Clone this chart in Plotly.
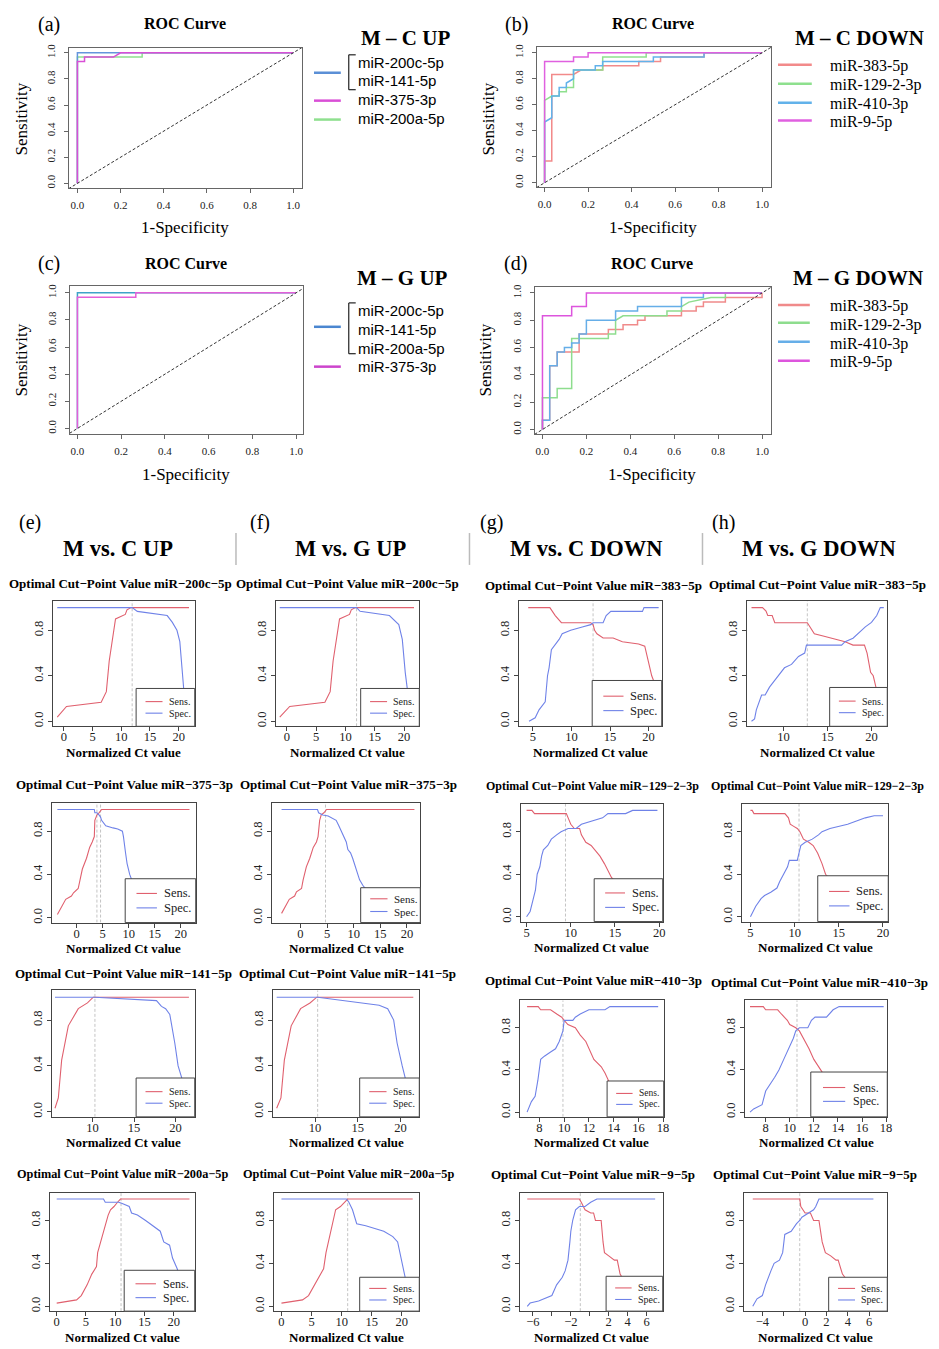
import plotly.graph_objects as go

W, H = 939, 1349
SERIF = "Liberation Serif, Times New Roman, serif"
SANS = "Liberation Sans, Arial, sans-serif"

# ---------------------------------------------------------------- ROC data
ROC_TICKS = [0.0, 0.2, 0.4, 0.6, 0.8, 1.0]

# (a) M - C UP
a_200c_141_fpr = [0, 0, 1]
a_200c_141_tpr = [0, 1, 1]
a_375_fpr = [0, 0, 0.033, 0.033, 0.167, 0.2, 1]
a_375_tpr = [0, 0.933, 0.933, 0.967, 0.967, 1, 1]
a_200a_fpr = [0, 0, 0.3, 0.3, 1]
a_200a_tpr = [0, 0.967, 0.967, 1, 1]

# (b) M - C DOWN
b_383_fpr = [0, 0, 0.033, 0.033, 0.133, 0.167, 0.267, 0.267, 0.433, 0.433, 0.533, 0.533, 0.733, 0.733, 1]
b_383_tpr = [0, 0.167, 0.167, 0.833, 0.833, 0.867, 0.867, 0.9, 0.9, 0.933, 0.933, 0.967, 0.967, 1, 1]
b_129_fpr = [0, 0, 0.033, 0.067, 0.067, 0.1, 0.1, 0.133, 0.133, 0.267, 0.267, 0.467, 0.467, 1]
b_129_tpr = [0, 0.633, 0.667, 0.667, 0.7, 0.7, 0.733, 0.733, 0.867, 0.867, 0.967, 0.967, 1, 1]
b_410_fpr = [0, 0, 0.033, 0.033, 0.067, 0.067, 0.1, 0.1, 0.133, 0.133, 0.233, 0.233, 0.267, 0.267, 0.5, 0.5, 0.733, 0.733, 1]
b_410_tpr = [0, 0.467, 0.5, 0.667, 0.667, 0.733, 0.733, 0.767, 0.8, 0.867, 0.867, 0.9, 0.9, 0.933, 0.933, 0.967, 0.967, 1, 1]
b_9_fpr = [0, 0, 0.133, 0.133, 0.2, 0.2, 1]
b_9_tpr = [0, 0.933, 0.933, 0.967, 0.967, 1, 1]

# (c) M - G UP
c_200c_141_200a_fpr = [0, 0, 1]
c_200c_141_200a_tpr = [0, 1, 1]
c_375_fpr = [0, 0, 0.267, 0.267, 1]
c_375_tpr = [0, 0.967, 0.967, 1, 1]

# (d) M - G DOWN
d_383_fpr = [0, 0, 0.033, 0.033, 0.067, 0.067, 0.167, 0.167, 0.3, 0.3, 0.367, 0.367, 0.433, 0.433, 0.467, 0.467,
             0.633, 0.633, 0.7, 0.7, 0.733, 0.733, 0.833, 0.833, 1, 1]
d_383_tpr = [0, 0.067, 0.067, 0.467, 0.467, 0.567, 0.567, 0.7, 0.7, 0.733, 0.733, 0.767, 0.767, 0.8, 0.8, 0.833,
             0.833, 0.867, 0.867, 0.9, 0.9, 0.933, 0.933, 0.967, 0.967, 1]
d_129_fpr = [0, 0, 0.067, 0.067, 0.133, 0.133, 0.3, 0.3, 0.333, 0.333, 0.367, 0.567, 0.567, 0.633, 0.633, 0.667,
             0.767, 0.833, 0.833, 1]
d_129_tpr = [0, 0.233, 0.233, 0.3, 0.3, 0.667, 0.667, 0.7, 0.7, 0.8, 0.833, 0.833, 0.867, 0.867, 0.9, 0.933,
             0.967, 0.967, 1, 1]
d_410_fpr = [0, 0, 0.033, 0.033, 0.067, 0.067, 0.1, 0.1, 0.133, 0.133, 0.167, 0.167, 0.2, 0.2, 0.333, 0.333,
             0.433, 0.433, 0.633, 0.633, 0.733, 0.733, 1]
d_410_tpr = [0, 0.067, 0.067, 0.467, 0.467, 0.567, 0.567, 0.6, 0.6, 0.633, 0.633, 0.7, 0.7, 0.8, 0.8, 0.867,
             0.867, 0.9, 0.9, 0.967, 0.967, 1, 1]
d_9_fpr = [0, 0, 0.133, 0.133, 0.2, 0.2, 1]
d_9_tpr = [0, 0.833, 0.833, 0.9, 0.9, 1, 1]

# ------------------------------------------------- cut-point data (Ct, value)
# row 1: miR-200c-5p / miR-383-5p
e1_sens_ct = [-1.15, 0.46, 6.5, 7.4, 7.9, 9.0, 10.7, 11.0, 11.7, 21.8]
e1_sens = [0.035, 0.13, 0.167, 0.26, 0.53, 0.9, 0.94, 0.98, 1.0, 1.0]
e1_spec_ct = [-1.15, 11.9, 12.8, 18.0, 18.9, 19.7, 20.2, 20.6, 20.9, 21.3, 21.8]
e1_spec = [1.0, 1.0, 0.967, 0.93, 0.87, 0.8, 0.7, 0.4, 0.27, 0.1, 0.0]
e1_cut = [11.9]

f1_sens_ct = [-1.2, 0.5, 6.5, 7.4, 7.9, 9.0, 10.7, 11.0, 11.7, 21.7]
f1_sens = [0.035, 0.13, 0.167, 0.26, 0.53, 0.9, 0.94, 0.98, 1.0, 1.0]
f1_spec_ct = [-1.2, 11.9, 12.5, 17.5, 19.1, 19.7, 20.2, 20.6, 21.0, 21.7]
f1_spec = [1.0, 1.0, 0.967, 0.93, 0.85, 0.72, 0.43, 0.27, 0.1, 0.0]
f1_cut = [11.9]

g1_sens_ct = [4.4, 7.2, 7.9, 8.7, 12.5, 12.8, 13.0, 13.3, 14.1, 15.4, 16.6, 18.7, 19.5, 19.9, 20.4, 20.8, 21.3]
g1_sens = [1.0, 1.0, 0.93, 0.867, 0.867, 0.85, 0.8, 0.77, 0.733, 0.733, 0.7, 0.68, 0.66, 0.55, 0.4, 0.33, 0.2]
g1_spec_ct = [4.5, 5.3, 5.8, 6.4, 6.6, 6.9, 7.1, 7.4, 7.9, 8.4, 8.8, 9.9, 11.4, 12.5, 12.8, 14.1, 14.5, 15.1,
              19.2, 19.4, 21.3]
g1_spec = [0.0, 0.03, 0.1, 0.15, 0.17, 0.4, 0.47, 0.63, 0.67, 0.72, 0.77, 0.8, 0.83, 0.85, 0.867, 0.867, 0.93,
           0.967, 0.967, 1.0, 1.0]
g1_cut = [12.8]

h1_sens_ct = [6.35, 7.6, 8.0, 8.2, 8.7, 9.0, 12.7, 13.0, 13.5, 14.5, 16.0, 17.0, 17.9, 19.2, 19.5, 19.9, 20.2,
              20.6, 21.4]
h1_sens = [1.0, 1.0, 0.97, 0.93, 0.93, 0.867, 0.867, 0.83, 0.77, 0.75, 0.72, 0.7, 0.67, 0.67, 0.6, 0.43, 0.4,
           0.27, 0.1]
h1_spec_ct = [6.35, 6.7, 6.9, 7.2, 7.5, 7.9, 8.4, 9.1, 9.7, 10.1, 10.9, 11.7, 12.4, 12.6, 16.6, 17.0, 17.9, 18.9,
              19.3, 20.0, 20.6, 21.0, 21.4]
h1_spec = [0.0, 0.02, 0.1, 0.17, 0.23, 0.23, 0.3, 0.37, 0.43, 0.47, 0.5, 0.57, 0.6, 0.67, 0.67, 0.7, 0.73, 0.8,
           0.83, 0.87, 0.93, 1.0, 1.0]
h1_cut = [12.7]

# row 2: miR-375-3p / miR-129-2-3p
e2_sens_ct = [-3.7, -2.9, -2.1, -1.0, -0.6, 0.3, 0.6, 1.1, 1.9, 2.5, 3.0, 3.4, 3.5, 3.9, 4.3, 4.8, 21.7]
e2_sens = [0.03, 0.1, 0.17, 0.2, 0.23, 0.27, 0.35, 0.45, 0.55, 0.65, 0.7, 0.75, 0.9, 0.95, 0.97, 1.0, 1.0]
e2_spec_ct = [-3.7, 3.4, 3.5, 3.9, 4.3, 4.6, 4.8, 5.2, 5.6, 7.0, 7.9, 8.8, 9.0, 9.4, 9.7, 10.2, 10.6, 12.0, 15.0,
              20.0, 21.7]
e2_spec = [1.0, 1.0, 0.97, 0.97, 0.95, 0.93, 0.9, 0.87, 0.85, 0.83, 0.82, 0.8, 0.75, 0.6, 0.5, 0.4, 0.35, 0.3,
           0.2, 0.05, 0.0]
e2_cut = [3.9, 4.6]

f2_sens_ct = [-3.55, -2.9, -2.1, -1.1, -0.75, 0.2, 0.5, 1.1, 1.75, 2.4, 3.0, 3.3, 3.6, 3.9, 4.4, 4.9, 21.4]
f2_sens = [0.04, 0.1, 0.17, 0.2, 0.24, 0.27, 0.35, 0.47, 0.55, 0.65, 0.7, 0.75, 0.9, 0.95, 0.97, 1.0, 1.0]
f2_spec_ct = [-3.55, 3.2, 3.4, 4.2, 5.2, 6.1, 6.7, 7.2, 7.7, 8.1, 8.6, 8.9, 9.4, 9.8, 10.3, 10.8, 11.1, 11.7,
              12.0, 15.0, 21.4]
f2_spec = [1.0, 1.0, 0.97, 0.95, 0.94, 0.92, 0.9, 0.85, 0.8, 0.75, 0.7, 0.63, 0.6, 0.55, 0.47, 0.4, 0.35, 0.3,
           0.28, 0.15, 0.0]
f2_cut = [4.7]

g2_sens_ct = [5.0, 5.6, 5.9, 9.5, 9.7, 10.0, 10.4, 11.0, 11.2, 11.7, 12.3, 12.7, 13.3, 13.8, 14.2, 14.6, 15.0,
              17.0, 19.8]
g2_sens = [1.0, 1.0, 0.97, 0.97, 0.93, 0.87, 0.83, 0.83, 0.77, 0.7, 0.67, 0.63, 0.57, 0.5, 0.43, 0.37, 0.33,
           0.15, 0.0]
g2_spec_ct = [5.0, 5.4, 5.7, 6.0, 6.2, 6.5, 6.7, 6.9, 7.4, 7.8, 8.4, 8.9, 9.7, 10.6, 11.2, 12.5, 13.6, 14.2,
              16.2, 17.0, 19.8]
g2_spec = [0.0, 0.05, 0.15, 0.25, 0.4, 0.47, 0.57, 0.63, 0.67, 0.73, 0.77, 0.8, 0.83, 0.83, 0.87, 0.9, 0.93,
           0.97, 0.97, 1.0, 1.0]
g2_cut = [9.4]

h2_sens_ct = [5.0, 5.2, 5.4, 8.9, 9.3, 9.5, 9.9, 10.3, 10.6, 11.0, 11.6, 12.1, 12.6, 13.1, 13.5, 13.8, 15.0, 20.0]
h2_sens = [1.0, 1.0, 0.97, 0.97, 0.93, 0.87, 0.85, 0.83, 0.8, 0.73, 0.7, 0.67, 0.6, 0.5, 0.4, 0.37, 0.2, 0.0]
h2_spec_ct = [5.0, 5.3, 5.6, 6.2, 6.6, 7.3, 8.0, 8.3, 8.8, 9.2, 9.4, 10.3, 10.5, 10.7, 11.2, 12.0, 12.7, 13.1,
              14.0, 15.0, 16.0, 17.0, 18.0, 19.0, 20.0]
h2_spec = [0.0, 0.05, 0.1, 0.17, 0.2, 0.23, 0.27, 0.33, 0.4, 0.47, 0.53, 0.53, 0.6, 0.67, 0.7, 0.73, 0.77, 0.8,
           0.83, 0.85, 0.87, 0.9, 0.93, 0.95, 0.95]
h2_cut = [10.5]

# row 3: miR-141-5p / miR-410-3p
e3_sens_ct = [5.5, 5.9, 6.3, 7.1, 8.3, 9.4, 10.1, 21.6]
e3_sens = [0.03, 0.12, 0.45, 0.75, 0.9, 0.95, 1.0, 1.0]
e3_spec_ct = [5.5, 10.3, 17.7, 18.3, 18.8, 19.3, 19.9, 20.3, 20.8, 21.6]
e3_spec = [1.0, 1.0, 0.97, 0.92, 0.9, 0.85, 0.6, 0.4, 0.28, 0.05]
e3_cut = [10.3]

f3_sens_ct = [5.5, 6.0, 6.4, 7.2, 8.3, 9.4, 10.2, 21.5]
f3_sens = [0.03, 0.12, 0.45, 0.75, 0.9, 0.95, 1.0, 1.0]
f3_spec_ct = [5.5, 10.3, 17.5, 18.5, 19.2, 19.6, 20.2, 20.6, 21.5]
f3_spec = [1.0, 1.0, 0.93, 0.9, 0.8, 0.6, 0.4, 0.28, 0.05]
f3_cut = [10.3]

g3_sens_ct = [7.0, 7.9, 8.1, 8.9, 9.4, 9.8, 10.0, 10.3, 10.9, 11.3, 11.75, 12.0, 12.4, 13.0, 13.3, 13.7, 15.0, 17.6]
g3_sens = [1.0, 1.0, 0.97, 0.97, 0.93, 0.9, 0.87, 0.83, 0.8, 0.73, 0.67, 0.6, 0.5, 0.43, 0.37, 0.27, 0.1, 0.0]
g3_spec_ct = [7.0, 7.35, 7.65, 7.87, 8.1, 8.4, 8.9, 9.3, 9.6, 9.8, 9.9, 10.0, 10.7, 10.9, 11.3, 12.0, 13.3, 13.7,
              17.6]
g3_spec = [0.0, 0.1, 0.15, 0.3, 0.5, 0.53, 0.57, 0.6, 0.67, 0.73, 0.77, 0.87, 0.87, 0.9, 0.93, 0.97, 0.97, 1.0, 1.0]
g3_cut = [9.9]

h3_sens_ct = [6.7, 7.8, 8.0, 9.0, 9.3, 9.8, 10.0, 10.5, 10.8, 11.0, 11.3, 11.6, 12.0, 12.4, 12.8, 14.0, 17.8]
h3_sens = [1.0, 1.0, 0.97, 0.97, 0.93, 0.87, 0.83, 0.8, 0.77, 0.73, 0.67, 0.6, 0.5, 0.43, 0.37, 0.15, 0.0]
h3_spec_ct = [6.7, 7.0, 7.7, 8.0, 8.75, 9.1, 9.5, 9.9, 10.3, 10.5, 10.8, 11.5, 11.8, 12.1, 13.05, 13.6, 14.1, 17.8]
h3_spec = [0.0, 0.03, 0.07, 0.2, 0.33, 0.4, 0.5, 0.6, 0.7, 0.77, 0.8, 0.8, 0.87, 0.9, 0.9, 0.97, 1.0, 1.0]
h3_cut = [10.6]

# row 4: miR-200a-5p / miR-9-5p
e4_sens_ct = [0, 3.4, 4.2, 5.2, 6.0, 6.8, 7.0, 7.5, 8.3, 8.8, 9.2, 9.8, 10.4, 10.9, 22.7]
e4_sens = [0.03, 0.06, 0.1, 0.2, 0.3, 0.37, 0.5, 0.6, 0.75, 0.85, 0.9, 0.93, 0.97, 1.0, 1.0]
e4_spec_ct = [0, 8.0, 8.3, 10.6, 11.1, 12.4, 12.8, 13.8, 15.2, 16.5, 17.7, 18.3, 19.3, 19.8, 20.6, 22.0, 22.7]
e4_spec = [1.0, 1.0, 0.97, 0.97, 0.96, 0.93, 0.87, 0.85, 0.8, 0.75, 0.7, 0.6, 0.57, 0.45, 0.35, 0.1, 0.0]
e4_cut = [11.0]

f4_sens_ct = [0, 3.5, 4.5, 5.5, 6.3, 7.0, 7.4, 7.8, 8.5, 9.0, 9.8, 10.5, 11.0, 21.8]
f4_sens = [0.03, 0.06, 0.1, 0.2, 0.28, 0.35, 0.5, 0.6, 0.8, 0.9, 0.93, 0.97, 1.0, 1.0]
f4_spec_ct = [0, 10.8, 11.2, 11.8, 12.5, 14.0, 17.0, 18.5, 19.3, 20.0, 20.4, 21.0, 21.8]
f4_spec = [1.0, 1.0, 0.97, 0.9, 0.77, 0.75, 0.7, 0.65, 0.6, 0.4, 0.3, 0.15, 0.0]
f4_cut = [11.0]

g4_sens_ct = [-6.6, -1.1, -0.9, -0.5, 0.1, 0.4, 0.6, 1.2, 1.4, 1.55, 2.0, 2.6, 2.9, 3.2, 4.5, 6.9]
g4_sens = [1.0, 1.0, 0.97, 0.9, 0.87, 0.87, 0.8, 0.8, 0.6, 0.5, 0.47, 0.43, 0.43, 0.3, 0.1, 0.0]
g4_spec_ct = [-6.6, -6.3, -5.4, -4.5, -4.0, -3.5, -2.9, -2.6, -2.3, -2.1, -2.0, -1.8, -1.5, -1.1, -0.5, 0.1,
              0.75, 6.9]
g4_spec = [0.0, 0.03, 0.05, 0.08, 0.1, 0.2, 0.27, 0.33, 0.43, 0.6, 0.7, 0.8, 0.9, 0.93, 0.93, 0.97, 1.0, 1.0]
g4_cut = [-1.0]

h4_sens_ct = [-4.9, -0.5, -0.4, 0.0, 0.5, 0.8, 1.3, 1.6, 1.9, 2.4, 2.9, 3.1, 3.5, 5.0, 6.4]
h4_sens = [1.0, 1.0, 0.93, 0.87, 0.87, 0.8, 0.8, 0.6, 0.5, 0.47, 0.43, 0.43, 0.3, 0.1, 0.0]
h4_spec_ct = [-4.9, -4.5, -4.0, -3.7, -3.2, -2.9, -2.4, -2.1, -1.9, -1.3, -0.8, -0.5, -0.3, 0.3, 0.8, 1.0, 1.3,
              6.4]
h4_spec = [0.0, 0.07, 0.1, 0.2, 0.33, 0.4, 0.43, 0.5, 0.67, 0.7, 0.77, 0.8, 0.83, 0.87, 0.9, 0.93, 1.0, 1.0]
h4_cut = [-0.5]

SENS_COLOR = "#E0606E"
SPEC_COLOR = "#6F82E8"

# ------------------------------------------------------------------ helpers
fig = go.Figure()
layout = dict(width=W, height=H, margin=dict(l=0, r=0, t=0, b=0), paper_bgcolor="white",
              plot_bgcolor="white", showlegend=False)
shapes = []
annotations = []
n_axes = [0]


def fx(p):
    return p / W


def fy(p):
    return 1 - p / H


def label(px, py, s, size, family=SERIF, bold=False, anchor="center", angle=0, color="black"):
    annotations.append(dict(x=fx(px), y=fy(py), xref="paper", yref="paper",
                            text=f"<b>{s}</b>" if bold else s, showarrow=False,
                            xanchor=anchor, yanchor="middle", textangle=angle,
                            font=dict(family=family, size=size, color=color)))


def seg(x0, y0, x1, y1, color, width):
    shapes.append(dict(type="line", xref="paper", yref="paper", x0=fx(x0), x1=fx(x1), y0=fy(y0), y1=fy(y1),
                       line=dict(color=color, width=width)))


def make_axes(box, xr, yr, xt, xtt, yt, ytt, fs, lc="#555", xstand=0, ystand=0):
    n_axes[0] += 1
    s = "" if n_axes[0] == 1 else str(n_axes[0])
    l, t, r, b = box
    base = dict(showline=True, mirror=True, linecolor=lc, linewidth=1, ticks="outside", ticklen=4,
                tickwidth=1, tickcolor=lc, showgrid=False, zeroline=False, fixedrange=True,
                tickfont=dict(family=SERIF, size=fs, color="#222"), tickmode="array")
    layout["xaxis" + s] = dict(domain=[fx(l), fx(r)], range=xr, anchor="y" + s, tickvals=xt, ticktext=xtt,
                               ticklabelstandoff=xstand, **base)
    layout["yaxis" + s] = dict(domain=[fy(b), fy(t)], range=yr, anchor="x" + s, tickvals=yt, ticktext=ytt,
                               tickangle=-90, ticklabelstandoff=ystand, **base)
    return "x" + s, "y" + s


def line_trace(x, y, xa, ya, color, width=1.0, dash=None):
    fig.add_trace(go.Scatter(x=x, y=y, mode="lines", xaxis=xa, yaxis=ya, hoverinfo="skip",
                             line=dict(color=color, width=width, dash=dash)))


def roc_panel(box, xr, yr, curves, letter, lpos, tpos, ylpos, xlpos):
    xa, ya = make_axes(box, xr, yr, ROC_TICKS, [f"{v:.1f}" for v in ROC_TICKS],
                       ROC_TICKS, [f"{v:.1f}" for v in ROC_TICKS], 11, lc="#666", xstand=2, ystand=4)
    for fpr, tpr, col in curves:
        line_trace(fpr, tpr, xa, ya, col, 1.5)
    # chance diagonal
    line_trace([xr[0], xr[1]], [xr[0], xr[1]], xa, ya, "#333", 1, "3px,2px")
    label(lpos[0], lpos[1], letter, 20)
    label(tpos[0], tpos[1], "ROC Curve", 16, bold=True)
    label(ylpos[0], ylpos[1], "Sensitivity", 17, angle=-90)
    label(xlpos[0], xlpos[1], "1-Specificity", 17)


def roc_legend(title, tpos, entries, family, fs):
    label(tpos[0], tpos[1], title, 21, bold=True)
    for kind, *rest in entries:
        if kind == "line":
            x0, x1, y, col = rest
            seg(x0, y, x1, y, col, 2.5)
        elif kind == "text":
            x, y, s = rest
            label(x, y, s, fs, family=family, anchor="left")
        elif kind == "bracket":
            x, y0, y1 = rest
            seg(x, y0, x, y1, "#222", 1.2)
            seg(x, y0, x + 7, y0, "#222", 1.2)
            seg(x, y1, x + 7, y1, "#222", 1.2)


YR_SMALL = [-0.045, 1.06]


def cut_panel(box, xr, xt, xtt, sens_ct, sens, spec_ct, spec, cuts, title, tpos, leg_w, leg_h, leg_fs,
              title_fs=13):
    xa, ya = make_axes(box, xr, YR_SMALL, xt, xtt, [0, 0.4, 0.8], ["0.0", "0.4", "0.8"], 12.5, lc="#444",
                       xstand=-5, ystand=0)
    for c in cuts:
        line_trace([c, c], YR_SMALL, xa, ya, "#C4C4C4", 1, "3px,2px")
    line_trace(sens_ct, sens, xa, ya, SENS_COLOR, 1.1)
    line_trace(spec_ct, spec, xa, ya, SPEC_COLOR, 1.1)
    l, t, r, b = box
    label(tpos[0], tpos[1], title, title_fs, bold=True)
    label((l + r) / 2, b + 26, "Normalized Ct value", 13, bold=True)
    # legend box in the lower-right corner
    lx0, ly0 = r - leg_w, b - leg_h
    shapes.append(dict(type="rect", xref="paper", yref="paper", x0=fx(lx0), x1=fx(r), y0=fy(b), y1=fy(ly0),
                       fillcolor="white", line=dict(color="#444", width=1), layer="above"))
    yc = (ly0 + b) / 2
    for dy, col, s in [(-0.58 * leg_fs, SENS_COLOR, "Sens."), (0.58 * leg_fs, SPEC_COLOR, "Spec.")]:
        seg(lx0 + 0.16 * leg_w, yc + dy, lx0 + 0.45 * leg_w, yc + dy, col, 1.1)
        label(lx0 + 0.52 * leg_w, yc + dy, s, leg_fs, anchor="left", color="#222")


# ------------------------------------------------------------- ROC panels
roc_panel((69, 44, 304, 185), [-0.041, 1.041], [-0.038, 1.038],
          [(a_200a_fpr, a_200a_tpr, "#8FE08F"), (a_200c_141_fpr, a_200c_141_tpr, "#6495DC"),
           (a_375_fpr, a_375_tpr, "#D94FD6")],
          "(a)", (49, 21), (186, 20), (22, 115), (186, 224))
roc_legend("M – C UP", (408, 34),
           [("line", 316, 343, 69, "#5B8FD6"), ("bracket", 351, 51, 86),
            ("text", 358, 59, "miR-200c-5p"), ("text", 358, 77, "miR-141-5p"),
            ("line", 316, 343, 97, "#D94FD6"), ("text", 358, 96, "miR-375-3p"),
            ("line", 316, 343, 116, "#8FE08F"), ("text", 358, 115, "miR-200a-5p")], SANS, 15)

roc_panel((540, 43, 776, 184), [-0.037, 1.041], [-0.035, 1.045],
          [(b_383_fpr, b_383_tpr, "#F28A8A"), (b_129_fpr, b_129_tpr, "#8EE08E"),
           (b_410_fpr, b_410_tpr, "#62B2EA"), (b_9_fpr, b_9_tpr, "#E060E0")],
          "(b)", (520, 21), (657, 20), (492, 115), (657, 224))
roc_legend("M – C DOWN", (865, 34),
           [("line", 783, 817, 61, "#F28A8A"), ("text", 833, 62, "miR-383-5p"),
            ("line", 783, 817, 80, "#8EE08E"), ("text", 833, 81, "miR-129-2-3p"),
            ("line", 783, 817, 99, "#62B2EA"), ("text", 833, 100, "miR-410-3p"),
            ("line", 783, 817, 117, "#E060E0"), ("text", 833, 118, "miR-9-5p")], SERIF, 16)

roc_panel((70, 283, 305, 432), [-0.036, 1.032], [-0.044, 1.051],
          [(c_200c_141_200a_fpr, c_200c_141_200a_tpr, "#3FA3C8"), (c_375_fpr, c_375_tpr, "#E45FD8")],
          "(c)", (49, 260), (187, 260), (22, 357), (187, 472))
roc_legend("M – G UP", (405, 275),
           [("line", 316, 343, 324, "#4A86D0"), ("bracket", 351, 300, 351),
            ("text", 358, 308, "miR-200c-5p"), ("text", 358, 327, "miR-141-5p"),
            ("text", 358, 346, "miR-200a-5p"),
            ("line", 316, 343, 364, "#CC44CC"), ("text", 358, 364, "miR-375-3p")], SANS, 15)

roc_panel((538, 284, 776, 432), [-0.036, 1.041], [-0.036, 1.044],
          [(d_383_fpr, d_383_tpr, "#F08A8A"), (d_129_fpr, d_129_tpr, "#8EDD8E"),
           (d_410_fpr, d_410_tpr, "#66AEE8"), (d_9_fpr, d_9_tpr, "#DD55DD")],
          "(d)", (519, 260), (656, 260), (489, 357), (656, 472))
roc_legend("M – G DOWN", (864, 275),
           [("line", 783, 815, 302, "#F08A8A"), ("text", 833, 303, "miR-383-5p"),
            ("line", 783, 815, 320, "#8EDD8E"), ("text", 833, 322, "miR-129-2-3p"),
            ("line", 783, 815, 339, "#66AEE8"), ("text", 833, 341, "miR-410-3p"),
            ("line", 783, 815, 358, "#DD55DD"), ("text", 833, 359, "miR-9-5p")], SERIF, 16)

# ------------------------------------------------------ cut-point headers
for letter, x in [("(e)", 30), ("(f)", 262), ("(g)", 495), ("(h)", 728)]:
    label(x, 520, letter, 20)
for head, x in [("M vs. C UP", 119), ("M vs. G UP", 353), ("M vs. C DOWN", 590), ("M vs. G DOWN", 824)]:
    label(x, 547, head, 22.5, bold=True)
for x in [237.5, 472.5, 707]:
    seg(x, 531, x, 563, "#BBBBBB", 1.5)

T5 = [0, 5, 10, 15, 20]
T5s = ["0", "5", "10", "15", "20"]
T10 = [10, 15, 20]
T10s = ["10", "15", "20"]
T5_20 = [5, 10, 15, 20]
T5_20s = ["5", "10", "15", "20"]
T8 = [8, 10, 12, 14, 16, 18]
T8s = ["8", "10", "12", "14", "16", "18"]

ttl = "Optimal Cut−Point Value "

# row 1
cut_panel((53, 599, 196, 725), [-1.95, 22.8], T5, T5s, e1_sens_ct, e1_sens, e1_spec_ct, e1_spec, e1_cut,
          ttl + "miR−200c−5p", (121, 582), 59, 38, 10)
cut_panel((278, 599, 422, 725), [-1.8, 22.6], T5, T5s, f1_sens_ct, f1_sens, f1_spec_ct, f1_spec, f1_cut,
          ttl + "miR−200c−5p", (350, 582), 59, 38, 10)
cut_panel((522, 599, 666, 725), [3.16, 21.7], T5_20, T5_20s, g1_sens_ct, g1_sens, g1_spec_ct, g1_spec, g1_cut,
          ttl + "miR−383−5p", (597, 584), 70, 46, 12.5)
cut_panel((752, 599, 893, 725), [5.86, 21.8], T10, T10s, h1_sens_ct, h1_sens, h1_spec_ct, h1_spec, h1_cut,
          ttl + "miR−383−5p", (823, 583), 58, 39, 10)

# row 2
cut_panel((52, 802, 197, 922), [-4.8, 22.9], T5, T5s, e2_sens_ct, e2_sens, e2_spec_ct, e2_spec, e2_cut,
          ttl + "miR−375−3p", (125, 783), 71, 44, 12.5)
cut_panel((274, 802, 423, 922), [-5.3, 22.5], T5, T5s, f2_sens_ct, f2_sens, f2_spec_ct, f2_spec, f2_cut,
          ttl + "miR−375−3p", (351, 783), 60, 35, 11)
cut_panel((524, 803, 667, 921), [4.33, 20.4], T5_20, T5_20s, g2_sens_ct, g2_sens, g2_spec_ct, g2_spec, g2_cut,
          ttl + "miR−129−2−3p", (596, 785), 69, 43, 12.5, title_fs=12)
cut_panel((747, 803, 894, 921), [4.07, 20.6], T5_20, T5_20s, h2_sens_ct, h2_sens, h2_spec_ct, h2_spec, h2_cut,
          ttl + "miR−129−2−3p", (823, 785), 71, 46, 12.5, title_fs=12)

# row 3
cut_panel((52, 990, 196, 1117), [5.1, 22.3], T10, T10s, e3_sens_ct, e3_sens, e3_spec_ct, e3_spec, e3_cut,
          ttl + "miR−141−5p", (124, 973), 59, 39, 10)
cut_panel((275, 990, 422, 1117), [5.1, 22.2], T10, T10s, f3_sens_ct, f3_sens, f3_spec_ct, f3_spec, f3_cut,
          ttl + "miR−141−5p", (350, 973), 60, 39, 10)
cut_panel((523, 1000, 668, 1117), [6.4, 18.05], T8, T8s, g3_sens_ct, g3_sens, g3_spec_ct, g3_spec, g3_cut,
          ttl + "miR−410−3p", (597, 980), 57, 36, 9.5)
cut_panel((750, 1000, 893, 1117), [6.3, 18.1], T8, T8s, h3_sens_ct, h3_sens, h3_spec_ct, h3_spec, h3_cut,
          ttl + "miR−410−3p", (825, 982), 77, 45, 12)

# row 4
cut_panel((50, 1193, 196, 1312), [-1.2, 23.6], T5, T5s, e4_sens_ct, e4_sens, e4_spec_ct, e4_spec, e4_cut,
          ttl + "miR−200a−5p", (123, 1174), 71, 41, 12, title_fs=12.3)
cut_panel((276, 1193, 422, 1312), [-1.2, 22.9], T5, T5s, f4_sens_ct, f4_sens, f4_spec_ct, f4_spec, f4_cut,
          ttl + "miR−200a−5p", (351, 1174), 60, 34, 10, title_fs=12.3)
cut_panel((523, 1193, 667, 1312), [-7.4, 7.7], [-6, -4, -2, 0, 2, 4, 6], ["−6", "", "−2", "", "2", "4", "6"],
          g4_sens_ct, g4_sens, g4_spec_ct, g4_spec, g4_cut, ttl + "miR−9−5p", (597, 1175), 57, 35, 10)
cut_panel((749, 1193, 893, 1312), [-5.7, 7.7], [-4, -2, 0, 2, 4, 6], ["−4", "", "0", "2", "4", "6"],
          h4_sens_ct, h4_sens, h4_spec_ct, h4_spec, h4_cut, ttl + "miR−9−5p", (820, 1175), 59, 34, 10)

layout["shapes"] = shapes
layout["annotations"] = annotations
fig.update_layout(**layout)
fig.write_html("out.html")
